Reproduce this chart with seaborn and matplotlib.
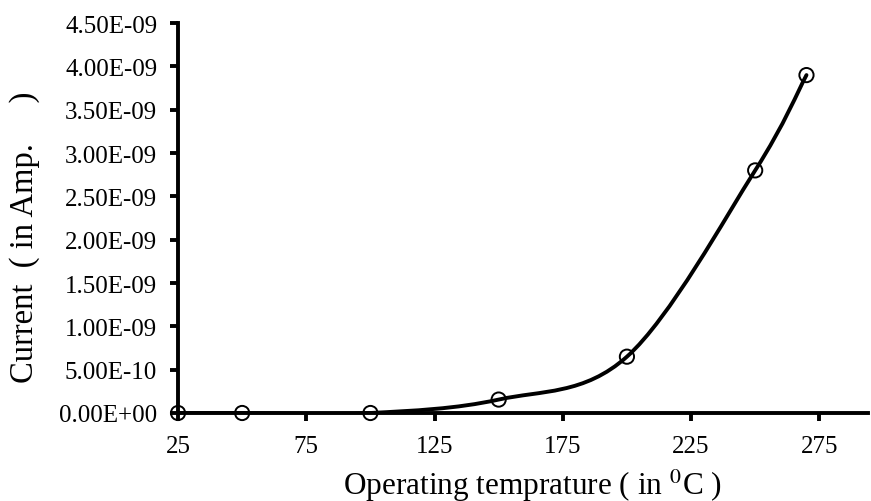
import numpy as np
import pandas as pd
import matplotlib
matplotlib.use("Agg")
import matplotlib.pyplot as plt
from matplotlib.path import Path
from matplotlib.patches import PathPatch
from matplotlib.ticker import FuncFormatter
import seaborn as sns

# Measured current versus operating temperature
temperature_c = [25, 50, 100, 150, 200, 250, 270]
current_amp = [0.0, 0.0, 0.0, 1.55e-10, 6.5e-10, 2.8e-9, 3.9e-9]
x_ticks = [25, 75, 125, 175, 225, 275]
y_ticks = [0, 5e-10, 1e-9, 1.5e-9, 2e-9, 2.5e-9, 3e-9, 3.5e-9, 4e-9, 4.5e-9]

df = pd.DataFrame({"temp": temperature_c, "current": current_amp})

sns.set_style("white")
plt.rcParams["font.family"] = ["Liberation Serif", "DejaVu Serif"]
plt.rcParams["mathtext.fontset"] = "stix"

fig = plt.figure(figsize=(8.71, 5.02), dpi=100)
ax = fig.add_axes([0.2044, 0.1753, 0.7922, 0.7767])


def smooth_path(xs, ys, k=1.0 / 6.0):
    """Cubic Bezier path through the points (Catmull-Rom style smoothing)."""
    pts = np.column_stack([xs, ys]).astype(float)
    n = len(pts)
    verts = [pts[0]]
    codes = [Path.MOVETO]
    for i in range(n - 1):
        p0 = pts[i - 1] if i > 0 else pts[i]
        p1 = pts[i]
        p2 = pts[i + 1]
        p3 = pts[i + 2] if i + 2 < n else pts[i + 1]
        c1 = p1 + (p2 - p0) * k
        c2 = p2 - (p3 - p1) * k
        verts += [c1, c2, p2]
        codes += [Path.CURVE4] * 3
    return Path(verts, codes)


curve = PathPatch(smooth_path(df["temp"], df["current"]), facecolor="none",
                  edgecolor="black", linewidth=2.8, zorder=2,
                  capstyle="round", joinstyle="round")
ax.add_patch(curve)

sns.scatterplot(data=df, x="temp", y="current", ax=ax, s=105,
                marker="o", facecolor="none", edgecolor="black",
                linewidth=1.4, zorder=3, clip_on=False)

ax.set_xlim(25, 294)
ax.set_ylim(0, 4.5e-9)
ax.set_xticks(x_ticks)
ax.set_yticks(y_ticks)
ax.yaxis.set_major_formatter(FuncFormatter(lambda v, _: "{:.2E}".format(v)))

for side in ["top", "right"]:
    ax.spines[side].set_visible(False)
for side in ["left", "bottom"]:
    ax.spines[side].set_linewidth(2.8)
    ax.spines[side].set_color("black")
    ax.spines[side].set_zorder(4)

ax.tick_params(axis="both", direction="out", length=6, width=2.8,
               color="black", labelsize=18, labelcolor="black")
ax.tick_params(axis="y", pad=9, left=True)
ax.tick_params(axis="x", pad=10, bottom=True)

ax.set_xlabel("Operating temprature ( in $^{0}$C )", fontsize=22.5, color="black")
ax.set_ylabel("Current  ( in Amp.     )", fontsize=23.5, color="black")
ax.xaxis.set_label_coords(0.513, -0.137)
ax.yaxis.set_label_coords(-0.2, 0.452)

fig.savefig("out.png", dpi=100)
